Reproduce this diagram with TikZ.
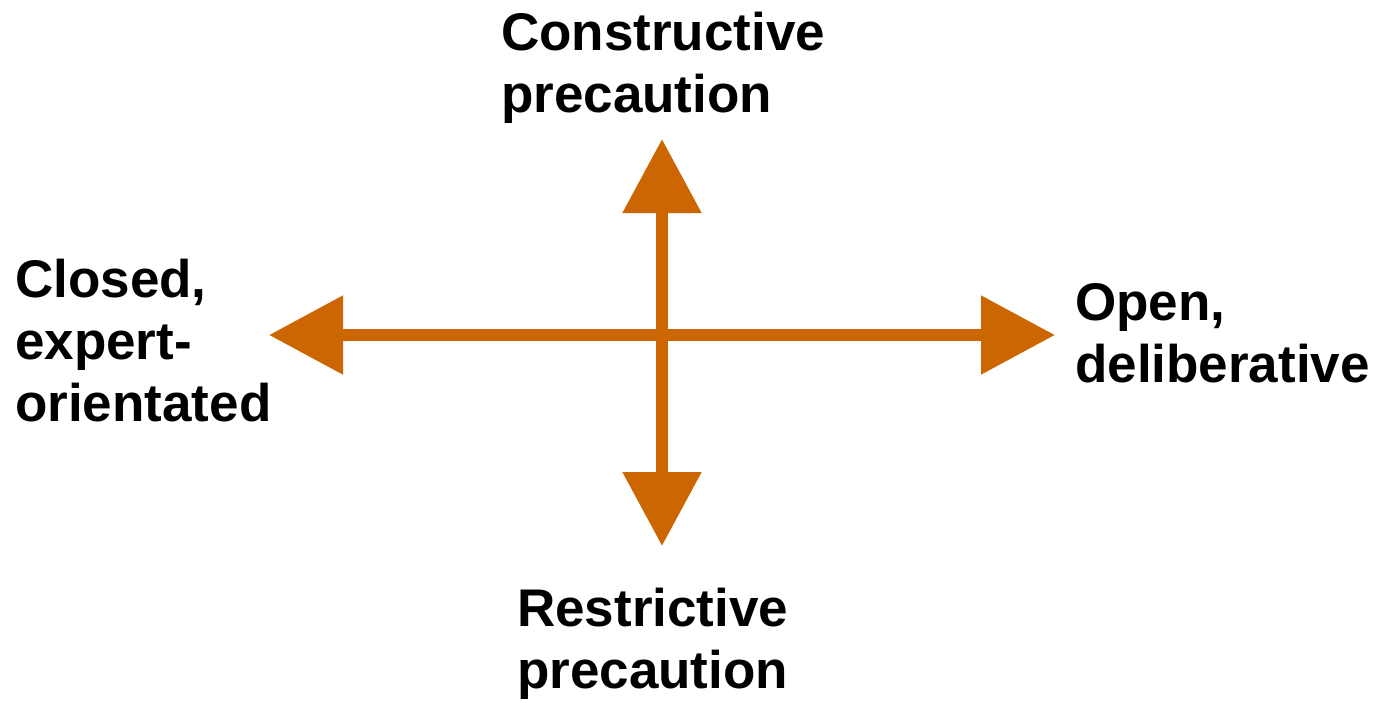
\documentclass[tikz,border=0pt]{standalone}
\usepackage{fontspec}
\setmainfont{Liberation Sans}
\usetikzlibrary{arrows.meta}
\definecolor{axisorange}{RGB}{204,102,0}
\tikzset{
  axis/.style={draw=axisorange, line width=12pt,
    {Triangle[length=74pt,width=76pt,fill=axisorange]}-{Triangle[length=74pt,width=76pt,fill=axisorange]}},
  % labels are placed by the baseline of their last line
  label/.style={inner sep=0pt, align=left, anchor=base west,
    font=\fontsize{53pt}{62pt}\selectfont\bfseries}
}
\begin{document}
\begin{tikzpicture}[x=1pt,y=-1pt]
\useasboundingbox (0,0) rectangle (1374,702);
% axis end points
\coordinate (W) at (269,335);
\coordinate (E) at (1055,335);
\coordinate (N) at (662,139);
\coordinate (S) at (662,546);
\draw[axis] (W) -- (E);
\draw[axis] (S) -- (N);
% pole labels
\node[label] (top) at (501,112) {Constructive\\precaution};
\node[label] (bottom) at (517,688) {Restrictive\\precaution};
\node[label] (left) at (15,421) {Closed,\\expert-\\orientated};
\node[label] (right) at (1075,382) {Open,\\deliberative};
\end{tikzpicture}
\end{document}
